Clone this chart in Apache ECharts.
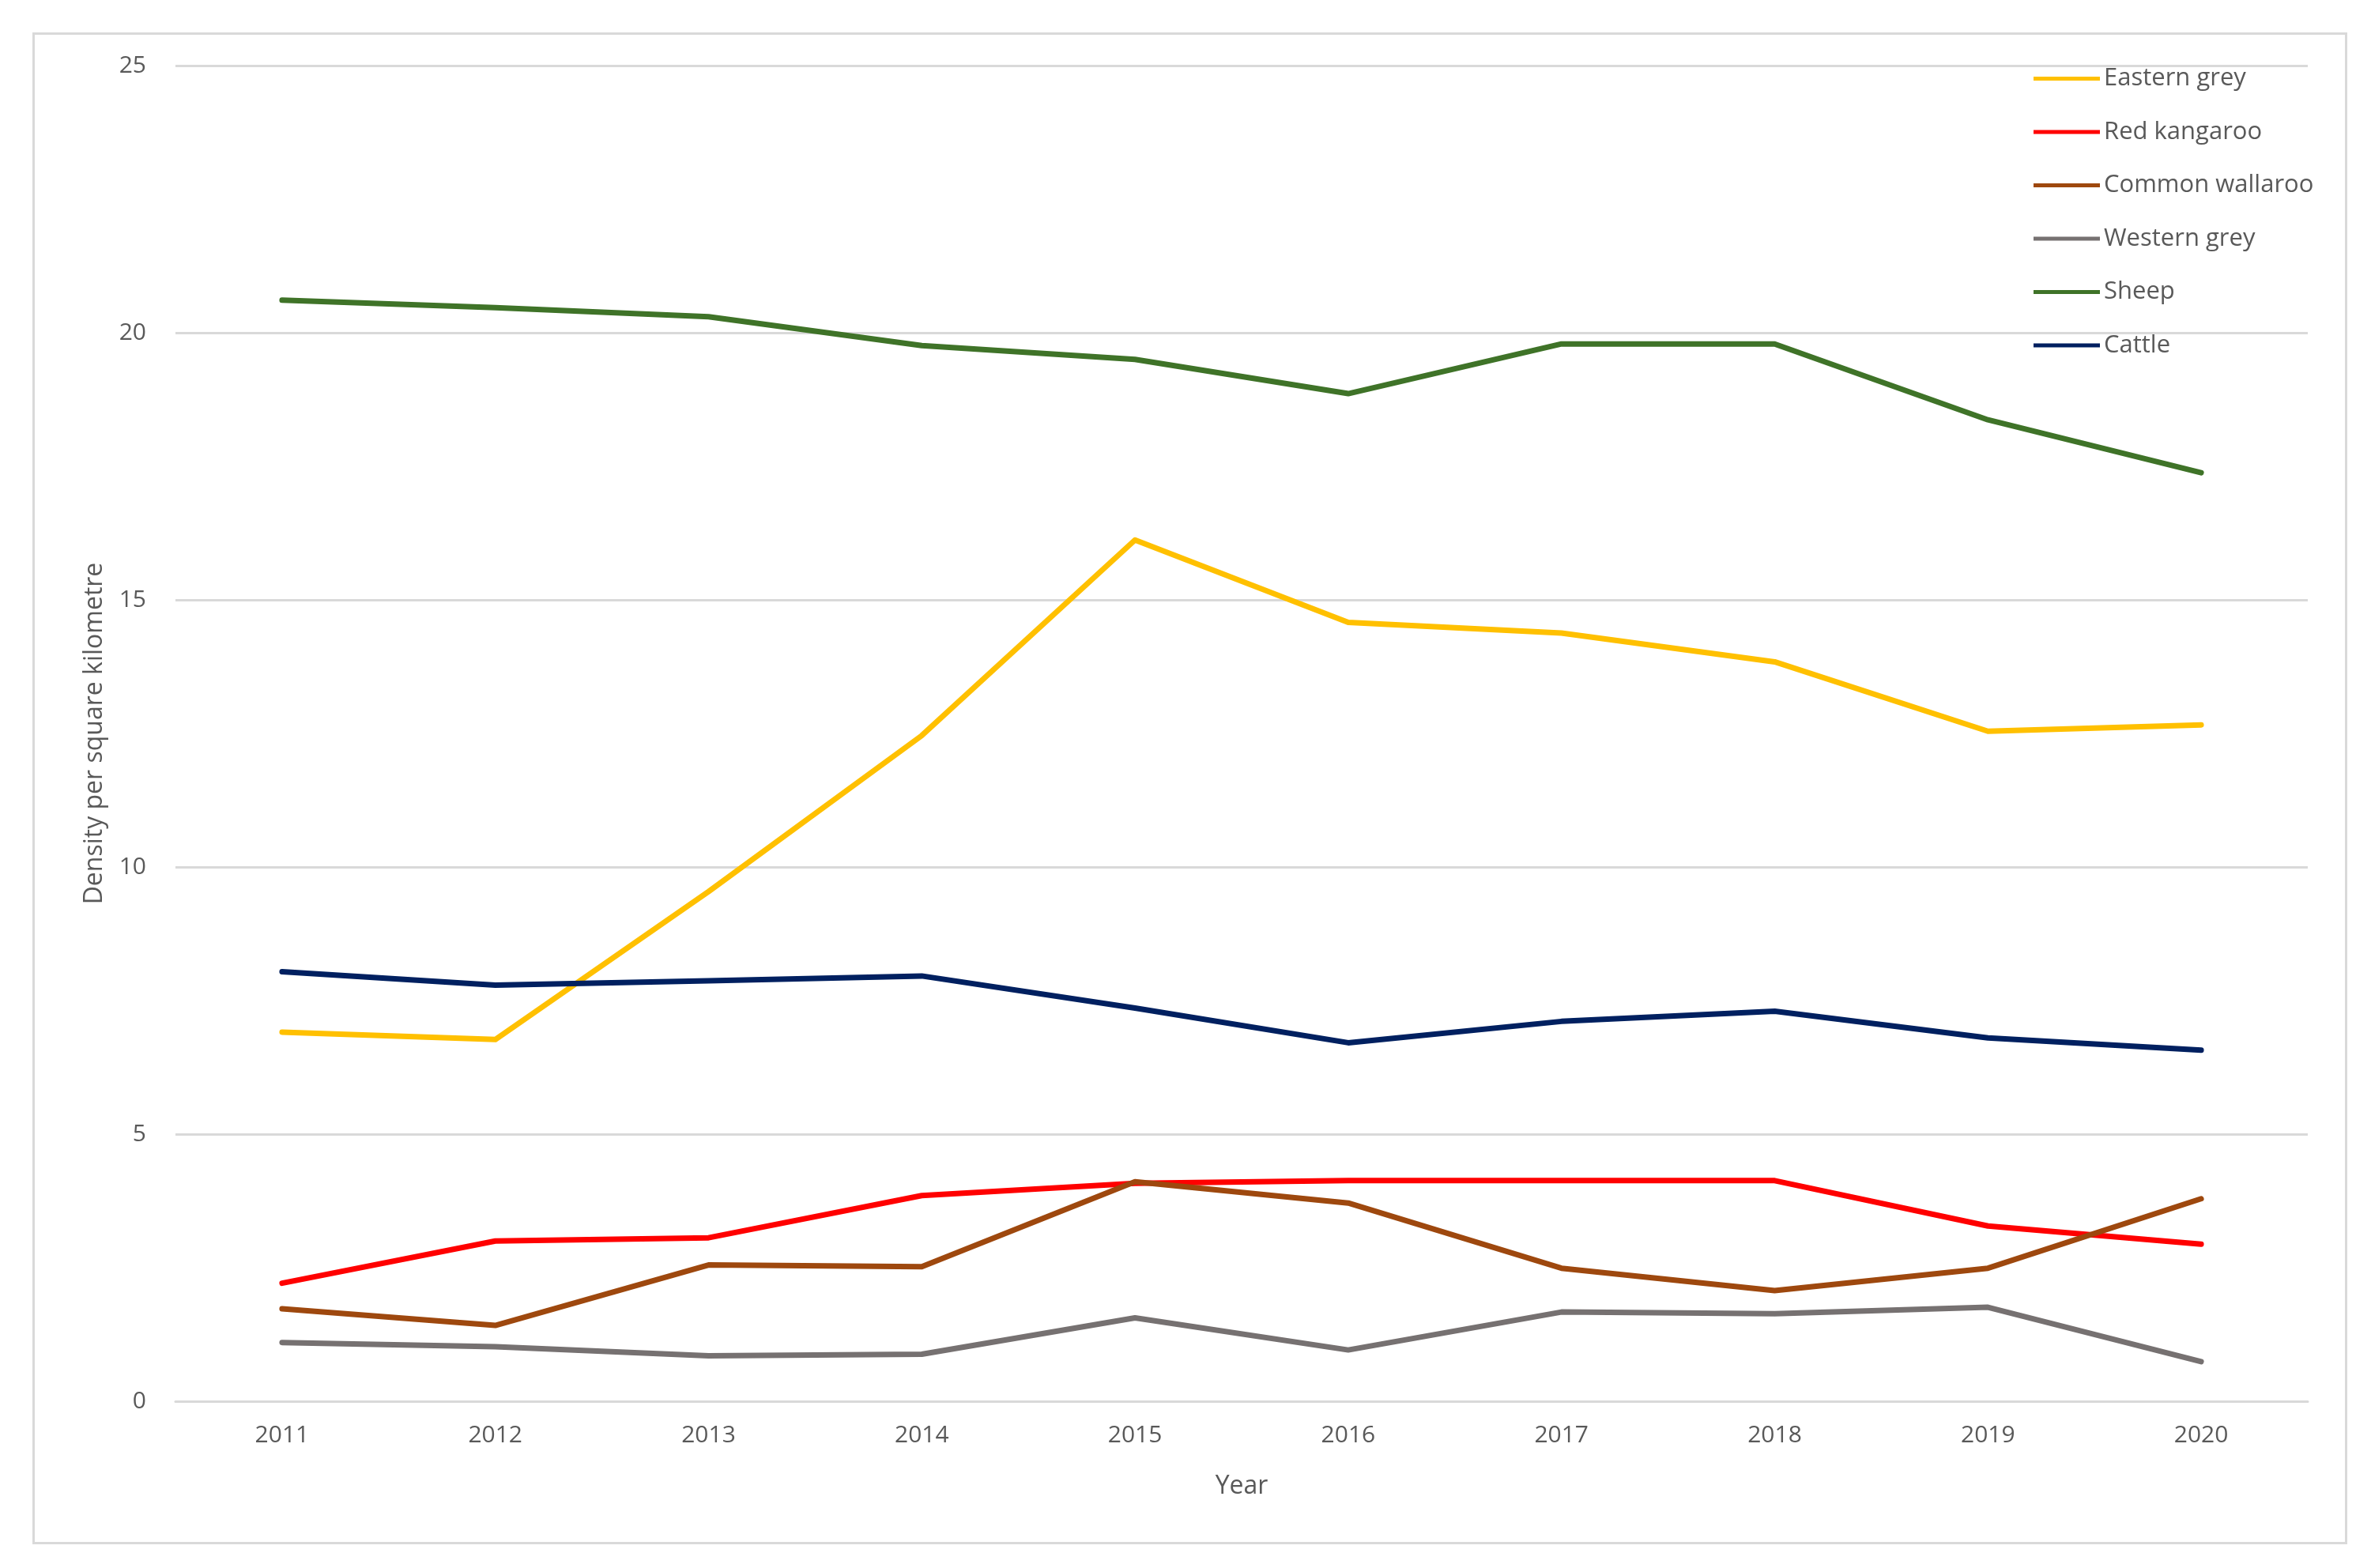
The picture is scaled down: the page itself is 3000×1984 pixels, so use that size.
<!DOCTYPE html>
<html>
<head>
<meta charset="utf-8">
<script src="https://cdn.jsdelivr.net/npm/echarts@6/dist/echarts.min.js"></script>
<style>html,body{margin:0;padding:0;background:#fff}#c{width:3000px;height:1984px}</style>
</head>
<body>
<div id="c"></div>
<script>
const years = ['2011','2012','2013','2014','2015','2016','2017','2018','2019','2020'];
const easternGrey = [6.91, 6.77, 9.54, 12.46, 16.12, 14.58, 14.38, 13.84, 12.54, 12.66];
const redKangaroo = [2.21, 3.00, 3.06, 3.85, 4.08, 4.13, 4.13, 4.13, 3.28, 2.94];
const commonWallaroo = [1.73, 1.42, 2.55, 2.52, 4.11, 3.71, 2.49, 2.07, 2.49, 3.79];
const westernGrey = [1.10, 1.02, 0.85, 0.88, 1.56, 0.96, 1.67, 1.64, 1.76, 0.74];
const sheep = [20.61, 20.47, 20.30, 19.76, 19.50, 18.86, 19.79, 19.79, 18.37, 17.38];
const cattle = [8.04, 7.79, 7.87, 7.96, 7.36, 6.71, 7.11, 7.30, 6.80, 6.57];
const yTicks = [0, 5, 10, 15, 20, 25];

const seriesDefs = [
  ['Eastern grey', easternGrey, '#FFC000'],
  ['Red kangaroo', redKangaroo, '#FF0000'],
  ['Common wallaroo', commonWallaroo, '#9E480E'],
  ['Western grey', westernGrey, '#767171'],
  ['Sheep', sheep, '#3F7328'],
  ['Cattle', cattle, '#002060']
];
const font = '"Open Sans", sans-serif';
const chart = echarts.init(document.getElementById('c'));
chart.setOption({
  backgroundColor: '#fff',
  animation: false,
  graphic: [{
    type: 'rect', left: 40, top: 40, z: -1,
    shape: {width: 2926, height: 1910},
    style: {fill: 'none', stroke: '#d9d9d9', lineWidth: 3}
  }],
  grid: {left: 222, right: 80, top: 83, bottom: 211, containLabel: false},
  legend: {
    orient: 'vertical', left: 2568, top: 79, align: 'left',
    icon: 'rect', itemWidth: 84, itemHeight: 5, itemGap: 36.5,
    textStyle: {fontFamily: font, fontSize: 31, color: '#595959'},
    data: seriesDefs.map(d => d[0])
  },
  xAxis: {
    type: 'category', data: years, boundaryGap: true,
    name: 'Year', nameLocation: 'middle', nameGap: 92,
    nameTextStyle: {fontFamily: font, fontSize: 32, color: '#595959'},
    axisLine: {lineStyle: {color: '#d9d9d9', width: 3}},
    axisTick: {show: false},
    axisLabel: {fontFamily: font, fontSize: 30, color: '#595959', margin: 28}
  },
  yAxis: {
    type: 'value', min: yTicks[0], max: yTicks[yTicks.length - 1], interval: 5,
    name: 'Density per square kilometre', nameLocation: 'middle', nameGap: 86,
    nameTextStyle: {fontFamily: font, fontSize: 32, color: '#595959'},
    axisLine: {show: false}, axisTick: {show: false},
    axisLabel: {fontFamily: font, fontSize: 30, color: '#595959', margin: 37},
    splitLine: {lineStyle: {color: '#d9d9d9', width: 3}}
  },
  series: seriesDefs.map(d => ({
    name: d[0], type: 'line', data: d[1], symbol: 'none',
    itemStyle: {color: d[2]},
    lineStyle: {color: d[2], width: 7, join: 'round', cap: 'round'}
  }))
});
</script>
</body>
</html>
